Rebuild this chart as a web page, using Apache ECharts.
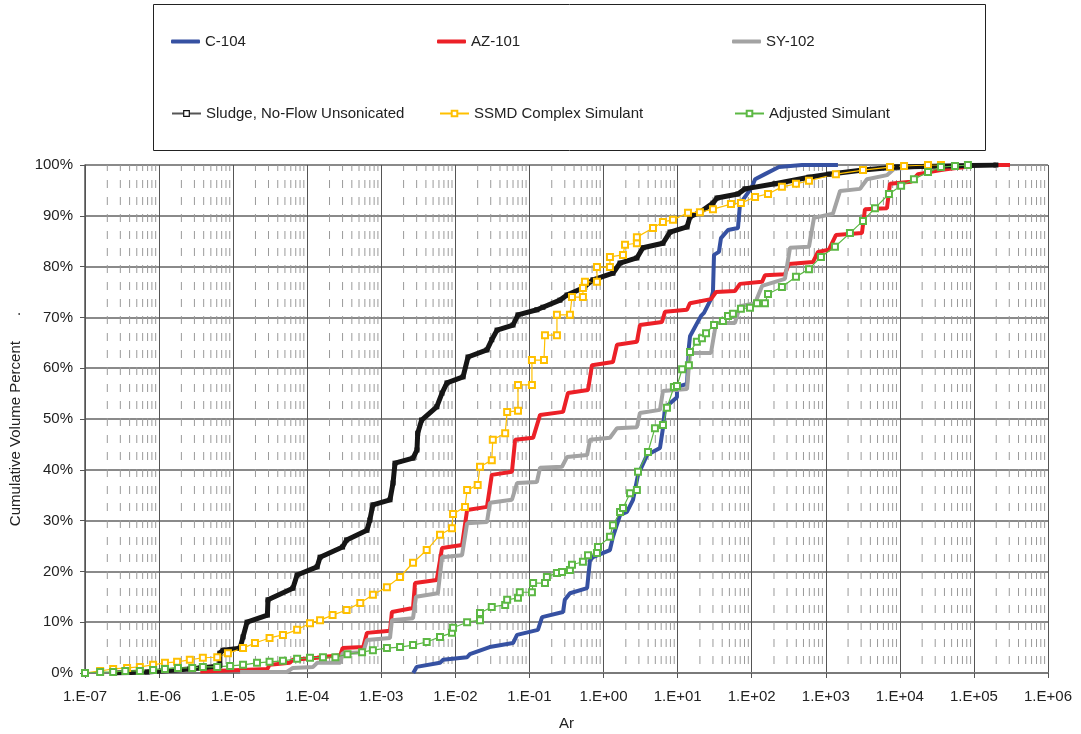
<!DOCTYPE html>
<html>
<head>
<meta charset="utf-8">
<script src="https://cdn.jsdelivr.net/npm/echarts@6/dist/echarts.min.js"></script>
<style>
html, body { margin: 0; padding: 0; background: #fff; }
#chart { width: 1081px; height: 734px; }
</style>
</head>
<body>
<div id="chart"></div>
<script>
// [Ar, cumulative volume %]
var c104 = [[2.7e-3,0],[3.0e-3,1.2],[6.2e-3,2.0],[6.8e-3,2.6],[1.44e-2,3.1],[1.57e-2,3.7],[2.9e-2,5.1],[6.0e-2,5.9],[6.8e-2,7.5],[0.130,8.5],[0.148,11.0],[0.284,12.0],[0.30,14.4],[0.352,15.7],[0.60,16.7],[0.656,22.2],[0.72,22.8],[1.22,24.2],[1.34,26.8],[1.67,31.1],[2.07,31.7],[2.50,34.1],[2.92,39.0],[3.86,42.9],[5.78,44.3],[6.34,48.2],[6.75,52.2],[9.8,54.3],[9.8,56.3],[13.4,56.9],[14.2,64.2],[14.7,66.3],[20.7,70.3],[22.7,70.9],[28.2,73.6],[30.0,75.0],[31.0,82.3],[36.1,82.9],[38.5,85.6],[47.9,87.2],[65.3,87.6],[69.5,92.3],[101,95.7],[111,97.2],[151,98.2],[233,99.6],[478,100],[1460,100]];

var az101 = [[3.6e-6,0.3],[2.9e-5,0.8],[3.1e-5,1.6],[5.8e-5,2.0],[6.4e-5,2.6],[1.36e-4,3.0],[1.49e-4,3.1],[2.8e-4,3.5],[3.0e-4,4.9],[5.7e-4,5.1],[6.4e-4,7.9],[1.31e-3,8.3],[1.39e-3,12.0],[2.68e-3,12.8],[2.85e-3,17.7],[5.6e-3,18.3],[6.6e-3,24.6],[1.23e-2,25.2],[1.44e-2,32.1],[2.67e-2,32.7],[3.1e-2,39.0],[5.8e-2,39.6],[6.4e-2,45.9],[0.112,46.3],[0.139,50.8],[0.284,51.4],[0.331,55.1],[0.617,55.7],[0.698,60.6],[1.34,61.2],[1.52,64.6],[2.82,65.2],[3.10,68.5],[6.15,69.1],[6.75,71.1],[13.4,71.5],[14.7,72.8],[28.2,73.6],[33.0,75.0],[59.4,75.2],[69.5,76.6],[138,77.0],[151,78.3],[281,78.5],[318,80.5],[671,80.9],[785,82.9],[1100,83.3],[1370,86.2],[3080,86.6],[3380,91.3],[6700,91.5],[7360,96.3],[1.41e4,96.7],[1.76e4,98.2],[3.59e4,99.0],[4.47e4,99.2],[7.57e4,99.6],[8.3e4,100],[3.07e5,100]];

var sy102 = [[1.24e-5,0.2],[5.3e-5,0.2],[6.4e-5,1.0],[1.2e-4,1.2],[1.36e-4,2.0],[2.8e-4,2.0],[3.0e-4,3.9],[5.7e-4,4.1],[6.4e-4,6.5],[1.31e-3,6.9],[1.39e-3,10.4],[2.68e-3,10.8],[2.94e-3,15.0],[5.8e-3,15.7],[6.6e-3,22.8],[1.23e-2,23.2],[1.44e-2,29.5],[2.67e-2,29.7],[2.93e-2,33.5],[5.8e-2,34.1],[6.8e-2,37.4],[0.126,37.6],[0.139,40.4],[0.275,40.6],[0.321,42.5],[0.60,42.9],[0.656,45.9],[1.22,46.3],[1.52,48.2],[2.82,48.4],[3.10,51.2],[5.78,51.8],[6.34,55.5],[13.4,55.9],[14.7,63.0],[28.2,63.0],[33.0,68.9],[59.4,68.9],[69.5,72.2],[111,72.8],[138,76.2],[281,77.6],[329,83.7],[593,83.9],[693,89.6],[1250,90.4],[1560,94.9],[2900,95.3],[3600,97.2],[6700,98.0],[8340,99.2],[1.55e4,99.6],[2.55e4,100]];

var sludge = [[2.5e-7,0],[6.9e-7,0.2],[2.6e-6,0.8],[3.6e-6,1.0],[6.6e-6,1.4],[6.6e-6,3.9],[7.3e-6,4.5],[1.24e-5,4.9],[1.36e-5,7.1],[1.54e-5,10.0],[2.9e-5,11.4],[2.95e-5,14.4],[6.4e-5,16.7],[7.3e-5,19.3],[1.36e-4,20.9],[1.49e-4,22.8],[3.0e-4,24.8],[3.4e-4,26.2],[6.4e-4,28.1],[7.0e-4,30.1],[7.7e-4,33.1],[1.31e-3,34.1],[1.44e-3,37.4],[1.53e-3,41.3],[2.68e-3,42.3],[3.03e-3,43.9],[3.1e-3,47.2],[3.5e-3,49.8],[5.6e-3,52.4],[6.6e-3,55.1],[7.7e-3,57.1],[1.27e-2,58.3],[1.48e-2,62.2],[2.67e-2,63.6],[3.1e-2,65.6],[3.65e-2,67.5],[6.0e-2,68.5],[7.0e-2,70.5],[0.126,71.5],[0.152,72.0],[0.258,73.4],[0.321,74.4],[0.527,75.8],[0.72,77.4],[1.34,78.7],[1.67,80.7],[2.82,81.7],[3.40,83.7],[6.34,84.6],[7.89,86.8],[13.4,87.8],[14.7,89.8],[20.0,90.7],[30.0,92.5],[34.0,93.5],[65.3,94.3],[81.1,95.3],[206,96.3],[593,97.6],[1100,98.2],[3180,99.0],[9140,99.6],[1.98e5,100]];

var ssmd = [[1.0e-7,0],[1.6e-7,0.4],[2.4e-7,0.8],[3.7e-7,1.0],[5.5e-7,1.2],[8.3e-7,1.6],[1.2e-6,2.0],[1.75e-6,2.2],[2.6e-6,2.6],[3.9e-6,3.0],[6.1e-6,3.1],[8.5e-6,3.9],[1.36e-5,4.9],[1.97e-5,5.9],[3.1e-5,6.9],[4.7e-5,7.5],[7.3e-5,8.5],[1.09e-4,9.8],[1.49e-4,10.4],[2.2e-4,11.4],[3.4e-4,12.4],[5.2e-4,13.8],[7.7e-4,15.4],[1.19e-3,16.9],[1.79e-3,18.9],[2.68e-3,21.7],[4.1e-3,24.2],[6.2e-3,27.2],[9.0e-3,28.5],[9.3e-3,31.3],[1.35e-2,32.7],[1.44e-2,36.0],[2.0e-2,37.0],[2.15e-2,40.6],[3.1e-2,41.9],[3.2e-2,45.9],[4.7e-2,47.2],[5.0e-2,51.4],[7.0e-2,51.6],[7.0e-2,56.7],[0.108,56.7],[0.108,61.6],[0.157,61.6],[0.162,66.5],[0.235,66.5],[0.235,70.5],[0.352,70.5],[0.375,74.0],[0.527,74.0],[0.527,75.8],[0.561,77.0],[0.815,77.0],[0.815,79.9],[1.22,79.9],[1.22,81.9],[1.83,82.3],[1.95,84.3],[2.82,84.6],[2.82,85.8],[4.65,87.6],[6.34,88.8],[8.65,89.2],[13.8,90.6],[20.0,90.7],[30.0,91.3],[52.5,92.3],[71.6,92.5],[111,93.7],[166,94.3],[256,95.7],[396,96.3],[593,96.9],[1370,98.2],[3180,99.0],[7360,99.6],[1.14e4,99.8],[2.4e4,100],[3.59e4,100]];

var adjusted = [[1.0e-7,0],[1.6e-7,0.2],[2.4e-7,0.2],[3.5e-7,0.4],[5.5e-7,0.4],[8.3e-7,0.6],[1.2e-6,0.8],[1.8e-6,1.0],[2.8e-6,1.0],[3.9e-6,1.2],[6.1e-6,1.2],[9.1e-6,1.4],[1.36e-5,1.6],[2.1e-5,2.0],[3.1e-5,2.2],[4.7e-5,2.4],[7.3e-5,2.8],[1.09e-4,3.0],[1.63e-4,3.1],[2.4e-4,3.1],[3.5e-4,3.7],[5.5e-4,4.1],[7.7e-4,4.5],[1.19e-3,4.9],[1.79e-3,5.1],[2.68e-3,5.5],[4.1e-3,6.1],[6.2e-3,7.1],[9.0e-3,7.9],[9.3e-3,8.9],[1.44e-2,10.0],[2.15e-2,10.4],[2.15e-2,11.8],[3.1e-2,13.0],[4.7e-2,13.4],[5.0e-2,14.4],[7.0e-2,14.8],[7.4e-2,15.9],[0.108,15.9],[0.112,17.7],[0.162,17.7],[0.172,18.9],[0.235,19.7],[0.275,19.9],[0.352,20.3],[0.375,21.3],[0.527,21.9],[0.617,23.2],[0.815,23.6],[0.841,24.8],[1.22,26.8],[1.34,29.1],[1.67,31.7],[1.83,32.5],[2.28,35.4],[2.82,36.0],[2.92,39.6],[3.98,43.5],[4.94,48.2],[6.34,48.8],[7.18,52.2],[8.91,56.3],[9.8,56.5],[11.5,59.8],[14.2,60.6],[14.7,63.2],[18.2,65.2],[21.3,65.9],[24.2,66.9],[31.0,68.5],[40.9,69.3],[47.9,70.3],[55.8,70.7],[71.6,71.7],[94.8,71.9],[118,72.8],[151,72.8],[166,74.6],[256,76.0],[396,78.0],[593,79.5],[861,81.9],[1330,83.9],[2120,86.6],[3180,89.0],[4610,91.5],[7130,94.3],[1.04e4,95.9],[1.55e4,97.2],[2.4e4,98.6],[3.59e4,99.6],[5.55e4,99.8],[8.3e4,100]];

var seriesNames = ['C-104', 'AZ-101', 'SY-102', 'Sludge, No-Flow Unsonicated', 'SSMD Complex Simulant', 'Adjusted Simulant'];

// minor grid at 2..9 of every decade, drawn as broken vertical segments on the log axis
var minorGrid = [];
for (var e = -7; e < 6; e++) {
  for (var k = 2; k <= 9; k++) {
    var v = k * Math.pow(10, e);
    minorGrid.push([v, 0], [v, 100], [v, '-']);
  }
}

function sciLabel(val) {
  var p = Math.round(Math.log10(val));
  var s = String(Math.abs(p));
  if (s.length < 2) s = '0' + s;
  return '1.E' + (p < 0 ? '-' : '+') + s;
}

var font = 'Liberation Sans, Arial, sans-serif';

function legendAt(name, left, top, h, extra) {
  var item = { name: name };
  if (extra) Object.assign(item, extra);
  return {
    data: [item], left: left, top: top, orient: 'horizontal',
    itemWidth: 29, itemHeight: h, itemGap: 0, padding: 0,
    textStyle: { fontSize: 15, color: '#222', fontFamily: font }
  };
}

var chart = echarts.init(document.getElementById('chart'));
var option = {
  animation: false,
  backgroundColor: '#fff',
  grid: { left: 85, right: 33, top: 165, bottom: 61, outerBoundsMode: 'none' },
  graphic: [{
    type: 'rect', silent: true,
    shape: { x: 153.5, y: 4.5, width: 832, height: 146 },
    style: { fill: 'none', stroke: '#222', lineWidth: 1 }
  }],
  legend: [
    legendAt(seriesNames[0], 171, 34, 4, { icon: 'roundRect' }),
    legendAt(seriesNames[1], 437, 34, 4, { icon: 'roundRect' }),
    legendAt(seriesNames[2], 732, 34, 4, { icon: 'roundRect' }),
    legendAt(seriesNames[3], 171, 106, 7, {
      lineStyle: { width: 2, color: '#555' },
      itemStyle: { color: '#fff', borderColor: '#111', borderWidth: 1.2 }
    }),
    legendAt(seriesNames[4], 439, 106, 7),
    legendAt(seriesNames[5], 734, 106, 7)
  ],
  xAxis: {
    type: 'log', logBase: 10, min: 1e-7, max: 1e6, interval: 1,
    name: 'Ar', nameLocation: 'middle', nameGap: 43,
    nameTextStyle: { fontSize: 15, color: '#222', fontFamily: font },
    axisLine: { lineStyle: { color: '#7a7a7a', width: 2 } },
    axisTick: { show: true, length: 5, lineStyle: { color: '#555' } },
    axisLabel: { fontSize: 15, color: '#222', fontFamily: font, margin: 16, formatter: sciLabel },
    splitLine: { show: true, lineStyle: { color: '#555', width: 1 } }
  },
  yAxis: {
    type: 'value', min: 0, max: 100, interval: 10,
    name: 'Cumulative Volume Percent      .', nameLocation: 'middle', nameGap: 58,
    nameTextStyle: { fontSize: 15, color: '#222', fontFamily: font },
    axisLine: { show: true, lineStyle: { color: '#555', width: 1.5 } },
    axisTick: { show: true, length: 5, lineStyle: { color: '#555' } },
    axisLabel: { fontSize: 15, color: '#222', fontFamily: font, margin: 12, formatter: '{value}%' },
    splitLine: { lineStyle: { color: '#8a8a8a', width: 2 } }
  },
  series: [
    {
      name: 'minor', type: 'line', data: minorGrid, z: 1, silent: true,
      symbol: 'none', connectNulls: false,
      lineStyle: { color: '#9a9a9a', width: 1, type: [8, 9], dashOffset: 8 }
    },
    {
      name: seriesNames[0], type: 'line', data: c104, symbol: 'none',
      lineStyle: { color: '#3651a2', width: 4 }, itemStyle: { color: '#3651a2' }
    },
    {
      name: seriesNames[1], type: 'line', data: az101, symbol: 'none',
      lineStyle: { color: '#ec2027', width: 4 }, itemStyle: { color: '#ec2027' }
    },
    {
      name: seriesNames[2], type: 'line', data: sy102, symbol: 'none',
      lineStyle: { color: '#a3a3a3', width: 4 }, itemStyle: { color: '#a3a3a3' }
    },
    {
      name: seriesNames[3], type: 'line', data: sludge, symbol: 'rect', symbolSize: 5,
      lineStyle: { color: '#161616', width: 5 }, itemStyle: { color: '#161616' }
    },
    {
      name: seriesNames[4], type: 'line', data: ssmd, symbol: 'emptyRect', symbolSize: 6,
      lineStyle: { color: '#ffc000', width: 1.2 }, itemStyle: { color: '#ffc000', borderWidth: 1.3 }
    },
    {
      name: seriesNames[5], type: 'line', data: adjusted, symbol: 'emptyRect', symbolSize: 6,
      lineStyle: { color: '#5cb844', width: 1.2 }, itemStyle: { color: '#5cb844', borderWidth: 1.3 }
    }
  ]
};
chart.setOption(option);
</script>
</body>
</html>
